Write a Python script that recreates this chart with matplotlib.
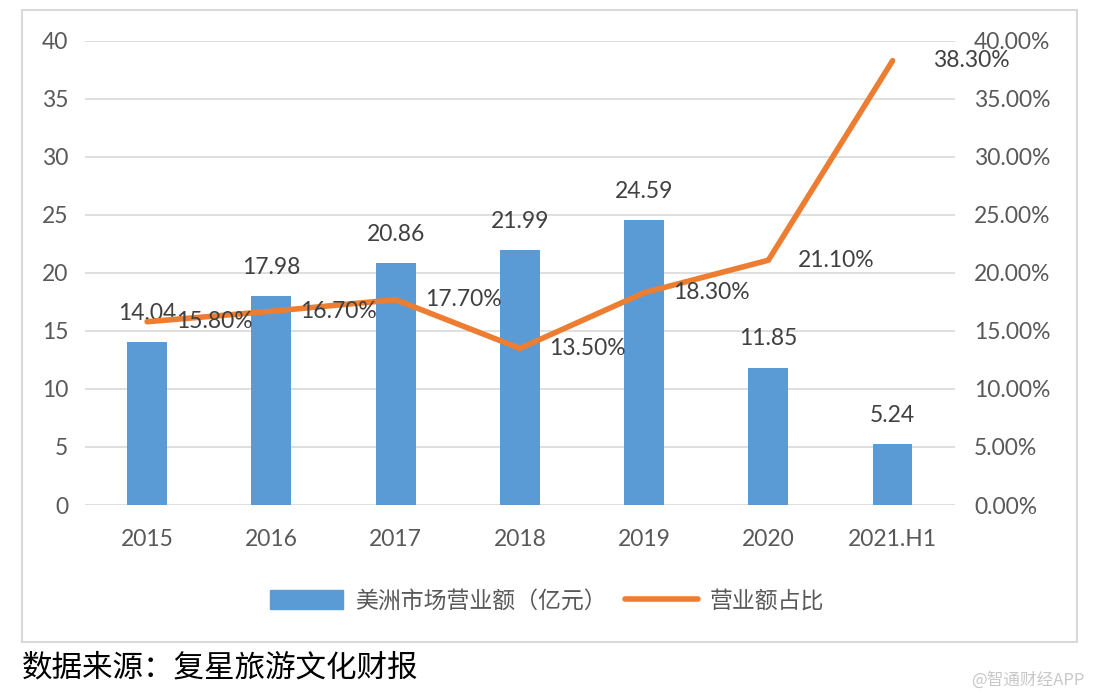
import matplotlib.pyplot as plt
from matplotlib.patches import Rectangle
from matplotlib.lines import Line2D
from matplotlib.ticker import FuncFormatter

plt.rcParams['font.family'] = ['Lato', 'Noto Sans CJK SC', 'DejaVu Sans']

# 数据
years = ['2015', '2016', '2017', '2018', '2019', '2020', '2021.H1']
revenue = [14.04, 17.98, 20.86, 21.99, 24.59, 11.85, 5.24]
share = [15.80, 16.70, 17.70, 13.50, 18.30, 21.10, 38.30]

bar_color = '#5B9BD5'
line_color = '#ED7D31'
text_color = '#595959'

fig = plt.figure(figsize=(10.94, 6.98), dpi=100)
ax = fig.add_axes([0.0777, 0.2765, 0.795, 0.6648])
ax2 = ax.twinx()

x = list(range(len(years)))
ax.bar(x, revenue, width=0.32, color=bar_color, zorder=2)
ax.set_xlim(-0.5, len(years) - 0.5)
ax.set_ylim(0, 40)
ax.set_yticks(range(0, 41, 5))
ax.set_xticks(x)
ax.set_xticklabels(years)
ax.grid(axis='y', color='#D9D9D9', linewidth=1.2, zorder=0)
ax.set_axisbelow(True)

ax2.plot(x, share, color=line_color, linewidth=4, solid_capstyle='round', zorder=3)
ax2.set_ylim(0, 40)
ax2.set_yticks(range(0, 41, 5))
ax2.yaxis.set_major_formatter(FuncFormatter(lambda v, p: f'{v:.2f}%'))

for a in (ax, ax2):
    for s in a.spines.values():
        s.set_visible(False)
    a.tick_params(length=0, labelsize=16.5, labelcolor=text_color)
ax.tick_params(axis='y', pad=12)
ax.tick_params(axis='x', pad=17)
ax2.tick_params(axis='y', pad=14)

for i, v in enumerate(revenue):
    ax.annotate(f'{v:.2f}', (i, v), xytext=(0, 13), textcoords='offset points',
                ha='center', va='bottom', fontsize=16.5, color='#404040')

for i, v in enumerate(share):
    dx = 21 if i < 6 else 29
    ax2.annotate(f'{v:.2f}%', (i, v), xytext=(dx, 0), textcoords='offset points',
                 ha='left', va='center', fontsize=16.5, color='#404040', zorder=4)

# 图例
handles = [Rectangle((0, 0), 1, 1, color=bar_color),
           Line2D([0], [0], color=line_color, linewidth=4, solid_capstyle='round')]
fig.legend(handles, ['美洲市场营业额（亿元）', '营业额占比'], loc='center',
           bbox_to_anchor=(0.5, 0.14), ncol=2, frameon=False, fontsize=16.5,
           labelcolor=text_color, handlelength=3.2, handleheight=0.9,
           columnspacing=0.8, handletextpad=0.5)

# 外框
fig.patches.append(Rectangle((22 / 1094, 1 - 642 / 698), 1055 / 1094, 632 / 698,
                             transform=fig.transFigure, fill=False,
                             edgecolor='#D9D9D9', linewidth=1.5))

fig.text(22 / 1094, 1 - 668 / 698, '数据来源：复星旅游文化财报', fontsize=22,
         color='black', ha='left', va='center', family=['Noto Sans CJK SC'])
fig.text(1085 / 1094, 1 - 680 / 698, '@智通财经APP', fontsize=12,
         color='#C8C8C8', ha='right', va='center', family=['Noto Sans CJK SC'])

fig.savefig('out.png', dpi=100)
